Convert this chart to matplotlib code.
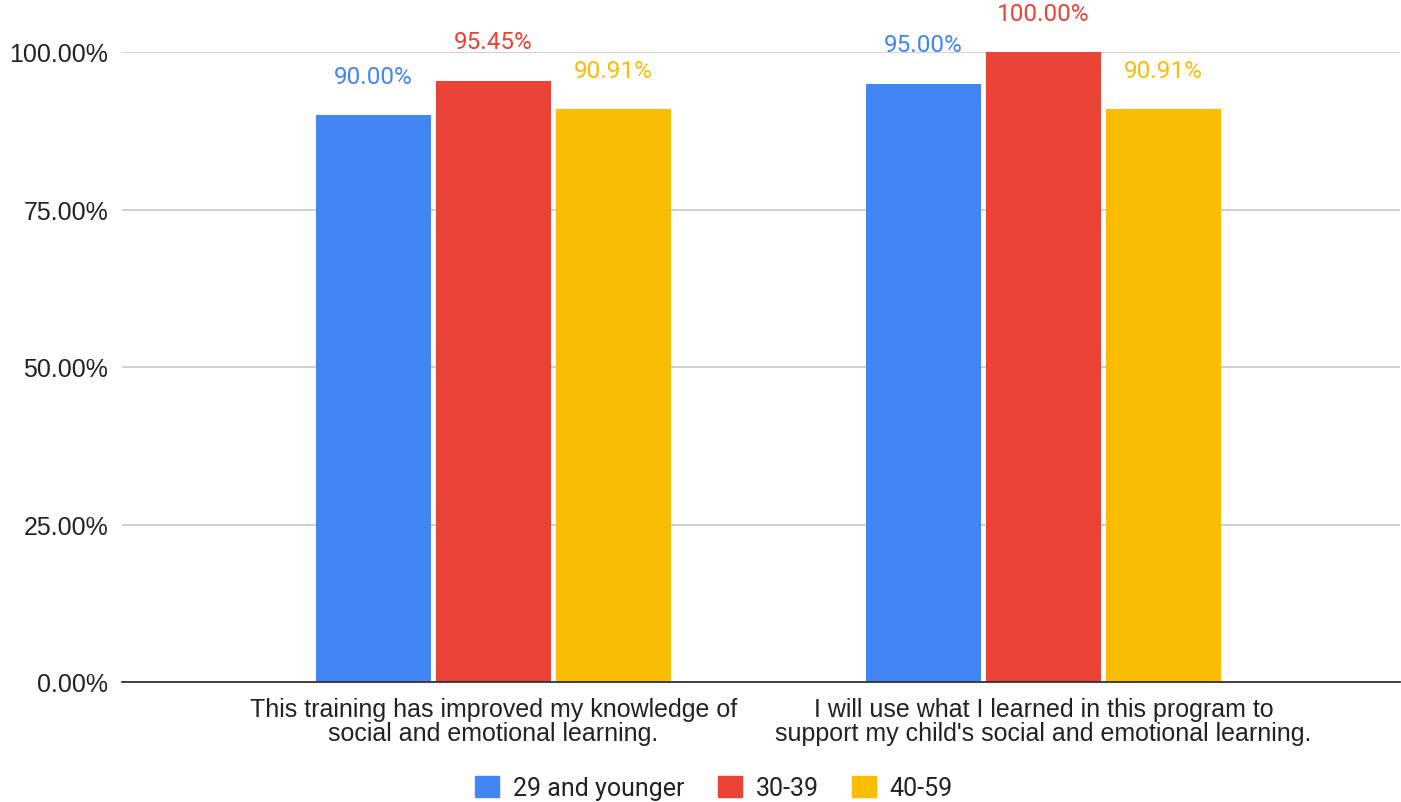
import matplotlib.pyplot as plt
from matplotlib.patches import Patch

categories = ["This training has improved my knowledge of\nsocial and emotional learning.",
              "I will use what I learned in this program to\nsupport my child's social and emotional learning."]
groups = ["29 and younger", "30-39", "40-59"]
values = [[0.90, 0.95],       # 29 and younger
          [0.9545, 1.00],     # 30-39
          [0.9091, 0.9091]]   # 40-59
colors = ["#4285F4", "#EA4335", "#FBBC04"]
yticks = [0, 0.25, 0.5, 0.75, 1.0]

fig = plt.figure(figsize=(14.01, 8.03), dpi=100, facecolor='white')
ax = fig.add_axes([122/1401, 1-683/803, 1278/1401, 630/803])

width = 0.209
step = 0.218
x = list(range(len(categories)))
for i, g in enumerate(groups):
    xs = [xi + (i-1)*step for xi in x]
    ax.bar(xs, values[i], width=width, color=colors[i], zorder=3)
    for xx, v in zip(xs, values[i]):
        ax.annotate("%.2f%%" % (v*100), xy=(xx, v), xytext=(0, 28),
                    textcoords='offset points', ha='center', va='center',
                    fontsize=17.5, color=colors[i], family='Roboto')

ax.set_xlim(-0.675, 1.648)
ax.set_ylim(0, 1)
ax.set_yticks(yticks)
ax.set_yticklabels(["%.2f%%" % (t*100) for t in yticks], family='Liberation Sans',
                   fontsize=18, color='#222222')
ax.set_xticks(x)
ax.set_xticklabels(categories, family='Liberation Sans', fontsize=18,
                   color='#222222', linespacing=1.0)
ax.tick_params(axis='both', length=0)
ax.tick_params(axis='y', pad=10)
ax.tick_params(axis='x', pad=11)
ax.grid(axis='y', color='#cccccc', linewidth=1.3, zorder=0)
for s in ['top', 'right', 'left']:
    ax.spines[s].set_visible(False)
ax.spines['bottom'].set_color('#333333')
ax.spines['bottom'].set_linewidth(1.3)
ax.spines['bottom'].set_zorder(4)

handles = [Patch(facecolor=c, edgecolor=c, label=g) for c, g in zip(colors, groups)]
leg = fig.legend(handles=handles, loc='center', bbox_to_anchor=(0.5096, 1-789/803),
                 ncol=3, frameon=False, handlelength=0.95, handleheight=0.95,
                 handletextpad=0.55, columnspacing=1.35,
                 prop={'family': 'Roboto', 'size': 18})
for t in leg.get_texts():
    t.set_color('#222222')

fig.savefig('out.png', dpi=100, facecolor='white')
